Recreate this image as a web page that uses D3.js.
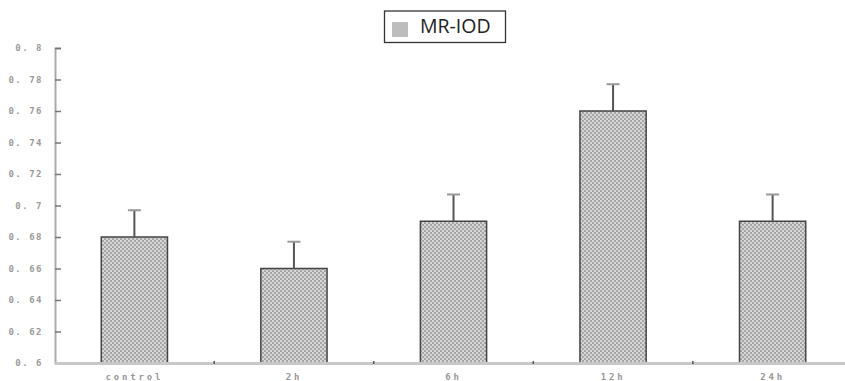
<!DOCTYPE html>
<html><head><meta charset="utf-8">
<script src="https://cdn.jsdelivr.net/npm/d3@7/dist/d3.min.js"></script>
<style>html,body{margin:0;padding:0;background:#fff;}svg{display:block;}</style>
</head><body>
<script>
const categories = ["control", "2h", "6h", "12h", "24h"];
const values = [0.68, 0.66, 0.69, 0.76, 0.69];
const errors = [0.017, 0.017, 0.017, 0.017, 0.017];
const yTicks = [0.6, 0.62, 0.64, 0.66, 0.68, 0.7, 0.72, 0.74, 0.76, 0.78, 0.8];
const seriesName = "MR-IOD";

const W = 845, H = 381;
const svg = d3.select("body").append("svg").attr("width", W).attr("height", H);

const defs = svg.append("defs");
const pat = defs.append("pattern").attr("id", "hatch").attr("patternUnits", "userSpaceOnUse")
  .attr("width", 4).attr("height", 4);
pat.append("rect").attr("width", 4).attr("height", 4).attr("fill", "#a4a4a4");
pat.append("ellipse").attr("cx", 1).attr("cy", 1).attr("rx", 0.9).attr("ry", 1.2).attr("fill", "#e4e4e4");
pat.append("ellipse").attr("cx", 3).attr("cy", 3).attr("rx", 0.9).attr("ry", 1.2).attr("fill", "#e4e4e4");

const x = d3.scaleBand().domain(categories).range([55, 852]).paddingInner(0.585).paddingOuter(0.29);
const y = d3.scaleLinear().domain([0.6, 0.8]).range([363, 48]);

// y axis
const yAxis = d3.axisRight(y).tickValues(yTicks).tickSize(6).tickFormat("");
const ya = svg.append("g").attr("transform", "translate(55,0)").call(yAxis);
ya.select(".domain").attr("stroke", "#aaa").attr("stroke-width", 2);
ya.selectAll(".tick line").attr("stroke", "#777").attr("stroke-width", 1.5);

svg.append("g").selectAll("text").data(yTicks).join("text")
  .attr("x", 43).attr("y", d => y(d)).attr("dy", "0.35em")
  .attr("text-anchor", "end")
  .attr("font-family", "DejaVu Sans Mono").attr("font-size", 9).attr("font-weight", "bold")
  .attr("letter-spacing", 1.5)
  .attr("fill", "#999")
  .text(d => d3.format("")(+d.toFixed(2)).replace(".", ". "));

// bars
svg.append("g").selectAll("rect").data(categories).join("rect")
  .attr("x", d => x(d)).attr("width", x.bandwidth())
  .attr("y", (d, i) => y(values[i])).attr("height", (d, i) => y(0.6) - y(values[i]))
  .attr("fill", "url(#hatch)").attr("stroke", "#444").attr("stroke-width", 1.5);

// error bars
const eb = svg.append("g");
eb.selectAll("line.v").data(categories).join("line").attr("class", "v")
  .attr("x1", d => x(d) + x.bandwidth() / 2).attr("x2", d => x(d) + x.bandwidth() / 2)
  .attr("y1", (d, i) => y(values[i])).attr("y2", (d, i) => y(values[i] + errors[i]))
  .attr("stroke", "#555").attr("stroke-width", 2);
eb.selectAll("line.c").data(categories).join("line").attr("class", "c")
  .attr("x1", d => x(d) + x.bandwidth() / 2 - 6.5).attr("x2", d => x(d) + x.bandwidth() / 2 + 6.5)
  .attr("y1", (d, i) => y(values[i] + errors[i])).attr("y2", (d, i) => y(values[i] + errors[i]))
  .attr("stroke", "#999").attr("stroke-width", 2);

// x axis baseline
svg.append("line").attr("x1", 55).attr("x2", W).attr("y1", y(0.6) + 0.5).attr("y2", y(0.6) + 0.5)
  .attr("stroke", "#c8c8c8").attr("stroke-width", 3);
// separator ticks between categories
svg.append("g").selectAll("line").data(categories.slice(1)).join("line")
  .attr("x1", d => x(d) - x.step() * x.paddingInner() / 2).attr("x2", d => x(d) - x.step() * x.paddingInner() / 2)
  .attr("y1", y(0.6) - 2).attr("y2", y(0.6) + 1)
  .attr("stroke", "#555").attr("stroke-width", 1.5);

svg.append("g").selectAll("text").data(categories).join("text")
  .attr("x", d => x(d) + x.bandwidth() / 2).attr("y", 380)
  .attr("text-anchor", "middle")
  .attr("font-family", "DejaVu Sans Mono").attr("font-size", 9).attr("font-weight", "bold")
  .attr("letter-spacing", 2.8)
  .attr("fill", "#999")
  .text(d => d);

// legend
const lg = svg.append("g");
lg.append("rect").attr("x", 384.5).attr("y", 11).attr("width", 121).attr("height", 31.5)
  .attr("fill", "#fff").attr("stroke", "#333").attr("stroke-width", 1.3);
lg.append("rect").attr("x", 392).attr("y", 22).attr("width", 16).attr("height", 15).attr("fill", "#bdbdbd");
lg.append("text").attr("x", 420).attr("y", 32.5)
  .attr("font-family", "Open Sans").attr("font-size", 19.5).attr("fill", "#222")
  .text(seriesName);
</script>
</body></html>
